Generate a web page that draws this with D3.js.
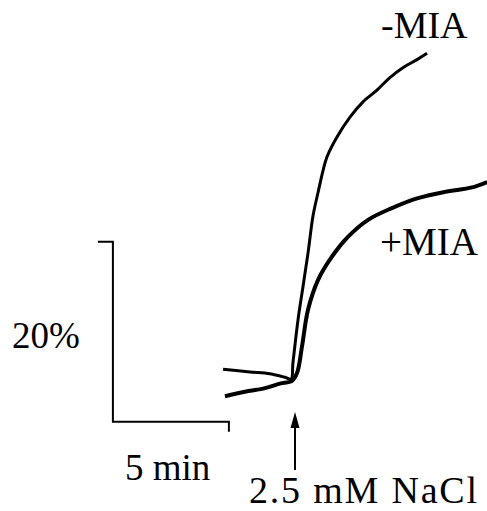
<!DOCTYPE html>
<html>
<head>
<meta charset="utf-8">
<script src="https://cdn.jsdelivr.net/npm/d3@7"></script>
<style>
  body { margin: 0; background: #fff; }
</style>
</head>
<body>
<svg width="487" height="511"></svg>
<script>
// time in min (0 = NaCl added), response in %
const minusMiaT = [-2.97, -1.81, -0.95, -0.3, -0.04, 0.04, 0.26, 0.47, 0.69, 0.91, 1.12, 1.34, 1.51, 1.94, 2.5, 3.06, 3.66, 4.22, 4.78, 5.39, 5.82];
const minusMiaV = [1.2, 0.9, 0.7, 0.3, 0.1, 1.9, 6.7, 10.3, 14.1, 18.3, 20.8, 23.3, 24.8, 27.0, 29.2, 30.9, 32.2, 33.6, 34.7, 35.6, 36.3];

const plusMiaT = [-2.89, -2.03, -1.16, -0.52, 0, 0.22, 0.43, 0.69, 1.12, 1.72, 2.41, 3.28, 4.31, 5.43, 6.59, 7.76, 8.41];
const plusMiaV = [-1.8, -1.3, -0.9, -0.4, -0.1, 0.8, 3.7, 7.8, 11.1, 13.7, 15.9, 17.8, 19.1, 20.2, 20.9, 21.4, 22.0];

const scaleBarMin = 5;
const scaleBarPct = 20;
const scaleBarOrigin = [-7.72, -4.65];   // [min, %]
const stimulusT = 0.13;

const svg = d3.select("svg");
const font = "Liberation Serif, DejaVu Serif, serif";

const x = d3.scaleLinear().domain([0, 5]).range([292, 408]);
const y = d3.scaleLinear().domain([0, 20]).range([380, 200]);

const line = d3.line()
  .x(d => x(d[0]))
  .y(d => y(d[1]))
  .curve(d3.curveCatmullRom.alpha(0.5));

// traces
svg.append("path")
  .datum(plusMiaT.map((t, i) => [t, plusMiaV[i]]))
  .attr("d", line)
  .attr("fill", "none")
  .attr("stroke", "#000")
  .attr("stroke-width", 4)
  .attr("stroke-linejoin", "round");

svg.append("path")
  .datum(minusMiaT.map((t, i) => [t, minusMiaV[i]]))
  .attr("d", line)
  .attr("fill", "none")
  .attr("stroke", "#000")
  .attr("stroke-width", 3)
  .attr("stroke-linejoin", "round");

// scale bar
const x0 = x(scaleBarOrigin[0]), y0 = y(scaleBarOrigin[1]);
const x1 = x(scaleBarOrigin[0] + scaleBarMin), y1 = y(scaleBarOrigin[1] + scaleBarPct);
svg.append("path")
  .attr("d", `M${x0 - 15},${y1}H${x0}V${y0}H${x1}V${y0 + 10}`)
  .attr("fill", "none")
  .attr("stroke", "#000")
  .attr("stroke-width", 2);

function label(tx, ty, size, s) {
  return svg.append("text")
    .attr("x", tx).attr("y", ty)
    .style("font-family", font)
    .attr("font-size", size)
    .attr("fill", "#000")
    .text(s);
}

label(12, 348, 37, scaleBarPct + "%");
label(125, 480, 37, scaleBarMin + " min");

// stimulus arrow
const ax = x(stimulusT);
svg.append("line")
  .attr("x1", ax).attr("x2", ax)
  .attr("y1", 470).attr("y2", 425)
  .attr("stroke", "#000").attr("stroke-width", 2);
svg.append("path")
  .attr("d", `M${ax},412L${ax - 4.5},428L${ax + 4.5},428Z`)
  .attr("fill", "#000");
label(249, 503, 38, "2.5 mM NaCl")
  .attr("textLength", 228)
  .attr("lengthAdjust", "spacing");

// trace labels
label(381, 38, 38, "-MIA");
label(380, 255, 39, "+MIA");
</script>
</body>
</html>
